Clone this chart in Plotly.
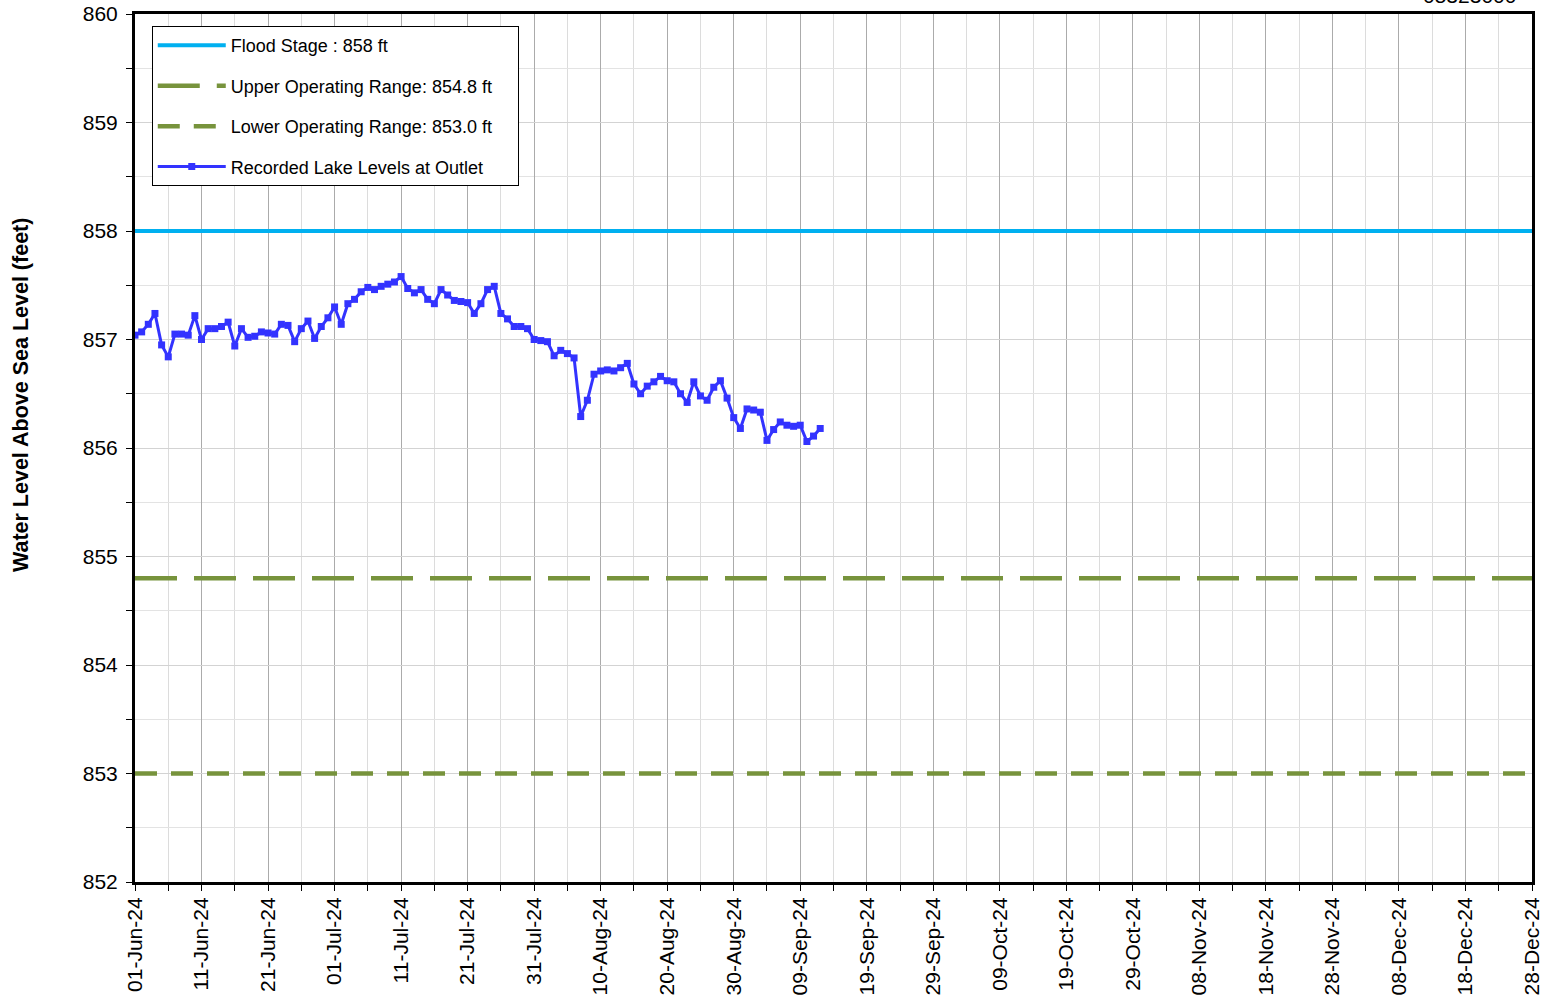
import pandas as pd
import plotly.graph_objects as go

# Daily recorded lake levels at the outlet (ft above sea level), starting 01-Jun-2024
start_date = "2024-06-01"
lake_levels = [
    857.04, 857.07, 857.14, 857.24, 856.95, 856.84, 857.05, 857.05, 857.04, 857.22,
    857.00, 857.10, 857.10, 857.12, 857.16, 856.94, 857.10, 857.02, 857.03, 857.07,
    857.06, 857.05, 857.14, 857.13, 856.98, 857.10, 857.17, 857.01, 857.12, 857.20,
    857.30, 857.14, 857.33, 857.37, 857.44, 857.48, 857.46, 857.49, 857.51, 857.53,
    857.58, 857.47, 857.43, 857.46, 857.37, 857.33, 857.46, 857.41, 857.36, 857.35,
    857.34, 857.24, 857.33, 857.46, 857.49, 857.24, 857.19, 857.12, 857.12, 857.10,
    857.00, 856.99, 856.98, 856.85, 856.90, 856.87, 856.83, 856.29, 856.44, 856.68,
    856.71, 856.72, 856.71, 856.74, 856.78, 856.59, 856.50, 856.57, 856.61, 856.66,
    856.62, 856.61, 856.50, 856.42, 856.61, 856.48, 856.44, 856.56, 856.62, 856.46,
    856.28, 856.18, 856.36, 856.35, 856.33, 856.07, 856.17, 856.24, 856.21, 856.20,
    856.21, 856.06, 856.11, 856.18,
]
dates = pd.date_range(start_date, periods=len(lake_levels), freq="D")

# Reference levels
flood_stage = 858.0
upper_operating = 854.8
lower_operating = 853.0
span = ["2024-06-01", "2024-12-28"]

y_range = [852, 860]
site_label = "05323000"
y_title = "Water Level Above Sea Level (feet)"

FONT = "Arial, Liberation Sans"
PAD = "&nbsp;" * 4  # extra room at the right of the legend box

fig = go.Figure()

fig.add_trace(go.Scatter(
    x=span, y=[flood_stage, flood_stage], mode="lines",
    name="Flood Stage : 858 ft", legendgroup="a",
    line=dict(color="#00B0F0", width=4),
))
fig.add_trace(go.Scatter(
    x=span, y=[upper_operating, upper_operating], mode="lines",
    name="Upper Operating Range: 854.8 ft", legendgroup="b",
    line=dict(color="#77933C", width=4.5, dash="42px,17px"),
))
fig.add_trace(go.Scatter(
    x=span, y=[lower_operating, lower_operating], mode="lines",
    name="Lower Operating Range: 853.0 ft" + PAD, legendgroup="c",
    line=dict(color="#77933C", width=4.5, dash="22px,14px"),
))
fig.add_trace(go.Scatter(
    x=dates, y=lake_levels, mode="lines+markers",
    name="Recorded Lake Levels at Outlet", legendgroup="d",
    line=dict(color="#3333FF", width=3),
    marker=dict(symbol="square", size=7, color="#3333FF"),
))

# Site number above the top-right corner of the frame
fig.add_annotation(
    text=site_label, xref="paper", yref="paper", x=1, y=1,
    xanchor="right", yanchor="bottom", yshift=5, xshift=-14, showarrow=False,
    font=dict(family=FONT, size=21, color="black"),
)

# Vertical axis title
fig.add_annotation(
    text=f"<b>{y_title}</b>", xref="paper", yref="paper",
    x=-0.0816, y=0.561, xanchor="center", yanchor="middle",
    textangle=-90, showarrow=False,
    font=dict(family=FONT, size=21.5, color="black"),
)

fig.update_layout(
    width=1546, height=1001,
    margin=dict(l=135, r=14, t=14, b=119),
    paper_bgcolor="white", plot_bgcolor="white",
    font=dict(family=FONT, color="black"),
    showlegend=True,
    legend=dict(
        x=0.012, y=0.986, xanchor="left", yanchor="top",
        bgcolor="white", bordercolor="black", borderwidth=1,
        font=dict(size=18), tracegroupgap=14, itemwidth=68,
    ),
    xaxis=dict(
        type="date", range=span, automargin=False,
        tick0="2024-06-01", dtick=10 * 86400000, tickformat="%d-%b-%y",
        tickangle=-90, tickfont=dict(size=21),
        ticks="outside", ticklen=6, tickcolor="black", ticklabelstandoff=-2,
        showgrid=True, gridcolor="#ABABAB", gridwidth=1,
        showline=True, linecolor="black", linewidth=3, mirror=True,
        zeroline=False,
        minor=dict(dtick=5 * 86400000, tick0="2024-06-01", showgrid=True,
                   gridcolor="#DCDCDC", ticks="outside", ticklen=6, tickcolor="black"),
    ),
    yaxis=dict(
        range=y_range, dtick=1, tick0=852, tickfont=dict(size=21), automargin=False,
        ticks="outside", ticklen=6, tickcolor="black", ticklabelstandoff=4,
        showgrid=True, gridcolor="#D3D3D3", gridwidth=1,
        showline=True, linecolor="black", linewidth=3, mirror=True,
        zeroline=False,
        minor=dict(dtick=0.5, showgrid=True, gridcolor="#E3E3E3",
                   ticks="outside", ticklen=6, tickcolor="black"),
    ),
)

fig.write_html("out.html")
